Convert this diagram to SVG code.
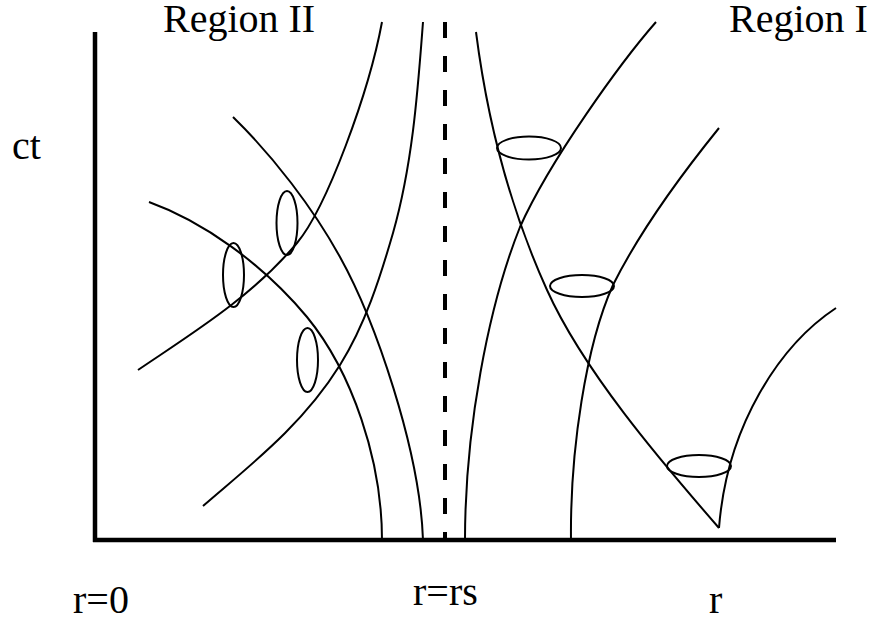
<svg xmlns="http://www.w3.org/2000/svg" width="880" height="624" viewBox="0 0 880 624">
<style>
.lbl{font-family:"Liberation Serif","Times New Roman",serif;font-size:40px;fill:#000}
.cv{fill:none;stroke:#000;stroke-width:2}
.ax{fill:none;stroke:#000;stroke-width:4.5}
.el{fill:none;stroke:#000;stroke-width:2}
</style>
<rect width="880" height="624" fill="#fff"/>
<g id="axes">
<line class="ax" x1="95" y1="32" x2="95" y2="542"/>
<line class="ax" x1="93" y1="540" x2="836" y2="540"/>
</g>
<g id="horizon">
<line x1="445" y1="22" x2="445" y2="540" stroke="#000" stroke-width="4" stroke-dasharray="16 18"/>
</g>
<g id="connectors">
<path class="cv" d="M138,370 C191,334 252,297 297,243 C327,207 369,92 382,22"/>
<path class="cv" d="M203,506 C249,466 302,426 340,365 C365,325 380,278 393,233 C413,163 418,87 423,22"/>
<path class="cv" d="M149,202 C202,221 262,263 307,317 C352,372 382,460 382,540"/>
<path class="cv" d="M233,117 C273,156 313,208 340,257 C375,320 420,450 423,540"/>
<path class="cv" d="M476,32 C487,118 508,204 547,290 C583,370 659,459 719,528"/>
<path class="cv" d="M656,22 C621,62 550,160 520,227 C488,307 465,430 465,540"/>
<path class="cv" d="M719,128 C681,175 639,233 613,285 C586,345 570,450 571,540"/>
<path class="cv" d="M719,528 C727,425 780,345 836,308"/>
</g>
<g id="cone-e1"><ellipse class="el" cx="287" cy="223" rx="10.5" ry="32"/></g>
<g id="cone-e2"><ellipse class="el" cx="233.5" cy="275" rx="10.5" ry="32"/></g>
<g id="cone-e3"><ellipse class="el" cx="307.5" cy="360" rx="10.5" ry="32"/></g>
<g id="cone-f1"><ellipse class="el" cx="529" cy="148" rx="32" ry="11.5"/></g>
<g id="cone-f2"><ellipse class="el" cx="582" cy="286" rx="32" ry="11"/></g>
<g id="cone-f3"><ellipse class="el" cx="699" cy="466" rx="32" ry="11"/></g>
<g id="labels">
<text class="lbl" x="163" y="32">Region II</text>
<text class="lbl" x="729" y="32">Region I</text>
<text class="lbl" x="12" y="159">ct</text>
<text class="lbl" x="73" y="613">r=0</text>
<text class="lbl" x="413" y="605">r=rs</text>
<text class="lbl" x="709" y="613">r</text>
</g>
</svg>
